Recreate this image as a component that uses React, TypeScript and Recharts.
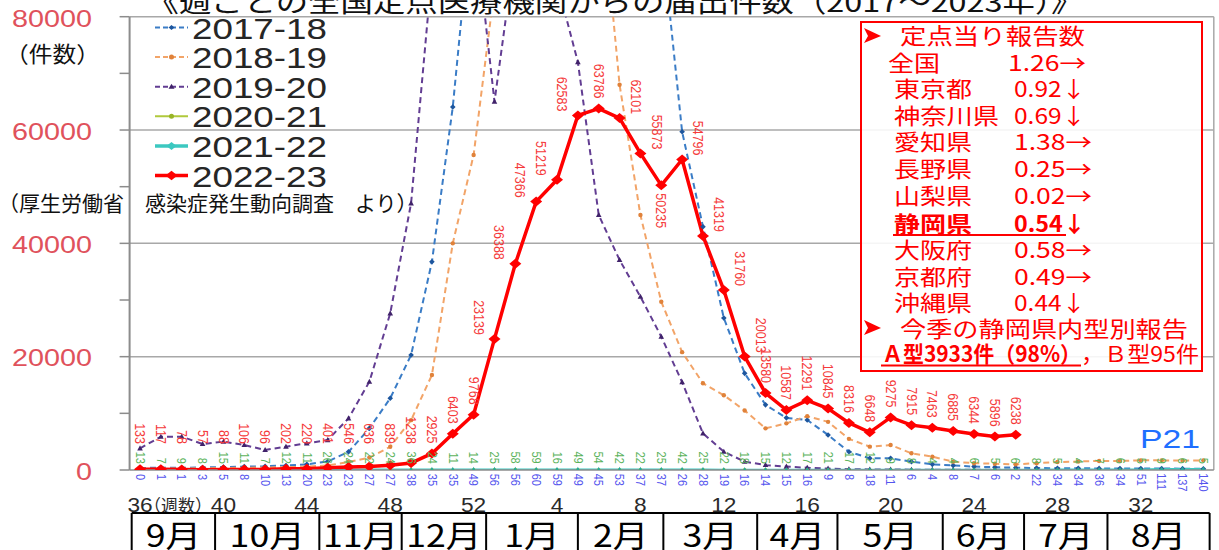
import React from "react";
import { LineChart, Line, XAxis, YAxis, ReferenceLine, LabelList } from "recharts";

// ---------- data ----------
const weeks = [36, 37, 38, 39, 40, 41, 42, 43, 44, 45, 46, 47, 48, 49, 50, 51, 52, 1, 2, 3, 4, 5, 6, 7, 8, 9, 10, 11, 12, 13, 14, 15, 16, 17, 18, 19, 20, 21, 22, 23, 24, 25, 26, 27, 28, 29, 30, 31, 32, 33, 34, 35];

const s1718 = [350, 420, 380, 450, 520, 600, 650, 800, 1000, 1500, 3200, 7350, 12650, 20300, 36760, 64060, 102000,
  140000, 200000, 270000, 283000, 260000, 200000, 150000, 120000, 95000, 59700, 42940, 26830, 17060, 11500, 9200, 8820,
  6180, 3230, 2060, 2060, 1470, 1000, 800, 600, 500, 400, 350, 300, 300, 280, 260, 250, 250, 240, 230];

const s1819 = [200, 250, 260, 300, 350, 400, 450, 500, 600, 800, 1400, 2200, 4100, 8800, 16770, 40000, 55600,
  85000, 150000, 230000, 280000, 220000, 107000, 68000, 45000, 29700, 20800, 15300, 13200, 10500, 7350, 8230, 9500,
  8500, 5500, 4120, 4410, 2950, 2350, 1470, 1200, 1100, 1000, 1200, 1400, 1500, 1600, 1600, 1700, 1700, 1650, 1700];

const s1920 = [3820, 5880, 5880, 4590, 5000, 4410, 3530, 4120, 4710, 5290, 9120, 15580, 27650, 47060, 88000, 105000, 98000,
  65000, 92000, 100000, 86000, 72000, 45000, 37060, 30590, 23530, 15500, 6470, 3230, 1470, 880, 600, 400,
  250, 150, 100, 80, 60, 50, 40, 30, 30, 20, 20, 15, 10, 10, 10, 8, 8, 6, 5];

const s2021 = [13, 7, 9, 8, 15, 11, 7, 12, 11, 26, 24, 22, 24, 36, 24, 11, 14,
  25, 58, 59, 16, 49, 54, 42, 22, 25, 42, 25, 22, 18, 15, 12, 17,
  21, 17, 12, 9, 8, 4, 4, 6, 5, 6, 8, 5, 4, 7, 6, 5, 9, 6, 5];

const s2122 = [0, 1, 1, 3, 5, 8, 10, 13, 20, 23, 23, 27, 27, 38, 35, 35, 49,
  56, 56, 60, 59, 49, 45, 53, 37, 37, 26, 28, 19, 16, 14, 15, 16,
  9, 8, 18, 11, 6, 4, 8, 7, 6, 2, 22, 34, 34, 36, 34, 51, 111, 137, 140];

const s2223 = [133, 117, 78, 57, 88, 106, 96, 202, 220, 401, 546, 636, 839, 1238, 2925, 6403, 9768,
  23139, 36388, 47366, 51219, 62583, 63786, 62101, 55873, 50235, 54796, 41319, 31760, 20013, 13580, 10587, 12291,
  10845, 8316, 6648, 9275, 7915, 7463, 6885, 6344, 5896, 6238];

const seriesNames = ["2017-18", "2018-19", "2019-20", "2020-21", "2021-22", "2022-23"];
const yTicks = [0, 10000, 20000, 30000, 40000, 50000, 60000, 70000, 80000];
const yLabelStep = 20000;
const gridValues = [20000, 40000, 60000, 80000];
const weekTicks = [36, 40, 44, 48, 52, 4, 8, 12, 16, 20, 24, 28, 32];
const months = ["9月", "10月", "11月", "12月", "1月", "2月", "3月", "4月", "5月", "6月", "7月", "8月"];
const monthBounds = [-0.4, 3.6, 8.6, 12.55, 16.6, 21.0, 25.1, 29.6, 33.45, 38.5, 42.4, 46.4, 51.3];

const reportTitle = "定点当り報告数";
const reportRows = [
  { name: "全国", value: "1.26→" },
  { name: "東京都", value: "0.92↓" },
  { name: "神奈川県", value: "0.69↓" },
  { name: "愛知県", value: "1.38→" },
  { name: "長野県", value: "0.25→" },
  { name: "山梨県", value: "0.02→" },
  { name: "静岡県", value: "0.54↓", bold: true },
  { name: "大阪府", value: "0.58→" },
  { name: "京都府", value: "0.49→" },
  { name: "沖縄県", value: "0.44↓" },
];
const typeTitle = "今季の静岡県内型別報告";
const typeA = "Ａ型3933件（98%）";
const typeB = "，Ｂ型95件";

const rows = weeks.map((w, i) => ({
  idx: i,
  week: w,
  s1718: s1718[i],
  s1819: s1819[i],
  s1920: s1920[i],
  s2021: s2021[i],
  s2122: s2122[i],
  s2223: i < s2223.length ? s2223[i] : null,
}));

// ---------- layout ----------
const W = 1219;
const H = 550;
const PLOT_LEFT = 129.6;
const PLOT_RIGHT = 1213.8;
const PLOT_TOP = 16.7;
const PLOT_BOTTOM = 470;
const X_AXIS_H = 30;
const N = weeks.length;
const BAND = (PLOT_RIGHT - PLOT_LEFT) / N;
const xOfIdx = (b: number) => PLOT_LEFT + (b + 0.5) * BAND;

const C = {
  blue: "#3a7cc6",
  blueDot: "#1d569e",
  orange: "#f2a468",
  orangeDot: "#e0823a",
  purple: "#623d92",
  purpleDot: "#40226a",
  green: "#b0c93c",
  greenDot: "#98b426",
  teal: "#3cc8c0",
  tealDot: "#26a89f",
  red: "#ff0000",
  redLabel: "#f53a3a",
  greenLabel: "#5cb35c",
  blueLabel: "#5555ee",
  grid: "#a8a8a8",
  axis: "#8c8c8c",
  yLabel: "#e0525c",
};

const NUM_FONT = "'Liberation Sans', Arial, sans-serif";
const JP_FONT = "'Noto Sans CJK JP', 'Noto Sans', sans-serif";

// ---------- dots ----------
const emptyDot = (i: any) => <g key={`e${i}`} />;
const bad = (p: any) => p.cx == null || p.cy == null || isNaN(p.cx) || isNaN(p.cy);

const diamondDot = (fill: string, hw: number, hh: number) => (p: any) => {
  if (bad(p)) return emptyDot(p.index);
  const { cx, cy } = p;
  return (
    <polygon key={`d${p.index}`} points={`${cx - hw},${cy} ${cx},${cy - hh} ${cx + hw},${cy} ${cx},${cy + hh}`} fill={fill} />
  );
};
const circleDot = (fill: string, r: number) => (p: any) => {
  if (bad(p)) return emptyDot(p.index);
  return <circle key={`c${p.index}`} cx={p.cx} cy={p.cy} r={r} fill={fill} />;
};
const triDot = (fill: string, w: number, h: number) => (p: any) => {
  if (bad(p)) return emptyDot(p.index);
  const { cx, cy } = p;
  return (
    <polygon key={`t${p.index}`} points={`${cx},${cy - h} ${cx + w},${cy + h * 0.7} ${cx - w},${cy + h * 0.7}`} fill={fill} />
  );
};

// ---------- labels ----------
const redLabel = (p: any) => {
  const v = p.value;
  const x = p.x ?? p.viewBox?.x;
  const y = p.y ?? p.viewBox?.y;
  const i = p.index;
  if (v == null || x == null || y == null) return null;
  const prev = i > 0 ? s2223[i - 1] : v;
  const next = i < s2223.length - 1 ? s2223[i + 1] : v;
  const slope = next - prev;
  const deepMin = prev - v > 3000 && next - v > 3000;
  const common = {
    fontSize: 12.5,
    fill: C.redLabel,
    fontFamily: NUM_FONT,
    dominantBaseline: "central" as any,
  };
  if (deepMin) {
    return (
      <text key={`rl${i}`} transform={`translate(${x},${y + 8}) rotate(90) scale(1,1.2)`} textAnchor="start" {...common}>
        {v}
      </text>
    );
  }
  let dx = 0;
  let endY = Math.min(y - 10, 444);
  if (v > 15000 && slope > 7000) {
    dx = -16;
    endY = y - 4;
  } else if (v > 15000 && slope < -7000) {
    dx = 16;
    endY = y - 4;
  }
  return (
    <text key={`rl${i}`} transform={`translate(${x + dx},${endY}) rotate(90) scale(1,1.2)`} textAnchor="end" {...common}>
      {v}
    </text>
  );
};

const smallLabel = (color: string, above: boolean) => (p: any) => {
  const v = p.value;
  const x = p.x ?? p.viewBox?.x;
  const y = p.y ?? p.viewBox?.y;
  if (v == null || x == null || y == null) return null;
  return (
    <text
      key={`sl${color}${p.index}`}
      transform={`translate(${x},${above ? y - 6 : y + 4}) rotate(90) scale(1,1.15)`}
      textAnchor={above ? "end" : "start"}
      dominantBaseline="central"
      fontSize={11}
      fill={color}
      fontFamily={NUM_FONT}
    >
      {v}
    </text>
  );
};

// ---------- ticks ----------
const YTick = (p: any) => {
  const v = p.payload?.value;
  if (v == null || v % yLabelStep !== 0) return <g />;
  const s = String(v);
  return (
    <text
      x={92}
      y={p.y + 9.8}
      textAnchor="end"
      fontSize={24}
      fontFamily={NUM_FONT}
      fill={C.yLabel}
      textLength={s.length * 16}
      lengthAdjust="spacingAndGlyphs"
    >
      {s}
    </text>
  );
};

const XTick = (p: any) => {
  const i = p.payload?.value;
  if (i == null) return <g />;
  const x = p.x;
  return (
    <g>
      <text
        transform={`translate(${x},512) scale(1.08,1)`}
        textAnchor="middle"
        fontSize={21}
        fontFamily={NUM_FONT}
        fill="#2a2a2a"
      >
        {weeks[i]}
      </text>
      {i === 0 && (
        <text x={x + 4} y={512} fontSize={17} fontFamily={JP_FONT} fill="#2a2a2a">
          （週数）
        </text>
      )}
    </g>
  );
};

// ---------- legend ----------
const legendItems = [
  { name: seriesNames[0], color: C.blue, dotColor: C.blueDot, dash: "5 3", width: 2, marker: "diamond", ms: 3 },
  { name: seriesNames[1], color: C.orange, dotColor: C.orangeDot, dash: "5 3", width: 2, marker: "circle", ms: 2.5 },
  { name: seriesNames[2], color: C.purple, dotColor: C.purpleDot, dash: "5 3", width: 2, marker: "tri", ms: 3 },
  { name: seriesNames[3], color: C.green, dotColor: C.greenDot, dash: undefined, width: 2, marker: "circle", ms: 2.5 },
  { name: seriesNames[4], color: C.teal, dotColor: C.teal, dash: undefined, width: 3.5, marker: "diamond", ms: 5 },
  { name: seriesNames[5], color: C.red, dotColor: C.red, dash: undefined, width: 3.5, marker: "diamond", ms: 6 },
];

const LegendBlock = () => (
  <g>
    {legendItems.map((it, i) => {
      const cy = 27.5 + i * 29.6;
      const mx = 171.5;
      let marker: any = null;
      if (it.marker === "diamond")
        marker = (
          <polygon
            points={`${mx - it.ms},${cy} ${mx},${cy - it.ms * 0.8} ${mx + it.ms},${cy} ${mx},${cy + it.ms * 0.8}`}
            fill={it.dotColor}
          />
        );
      else if (it.marker === "tri")
        marker = (
          <polygon points={`${mx},${cy - 3} ${mx + 3},${cy + 2} ${mx - 3},${cy + 2}`} fill={it.dotColor} />
        );
      else marker = <circle cx={mx} cy={cy} r={it.ms} fill={it.dotColor} />;
      return (
        <g key={it.name}>
          <line x1={155} x2={188} y1={cy} y2={cy} stroke={it.color} strokeWidth={it.width} strokeDasharray={it.dash} />
          {marker}
          <text
            x={192}
            y={cy + 11}
            fontSize={30}
            fontFamily={NUM_FONT}
            fill="#262626"
            textLength={135}
            lengthAdjust="spacingAndGlyphs"
          >
            {it.name}
          </text>
        </g>
      );
    })}
  </g>
);

// ---------- report box ----------
const Arrowhead = ({ x, y }: { x: number; y: number }) => (
  <polygon points={`${x},${y - 8} ${x + 17},${y} ${x},${y + 7} ${x + 4},${y}`} fill="#ff0000" />
);

const ReportBox = () => {
  const rowY0 = 70.5;
  const rowStep = 26.6;
  const nameW: Record<string, number> = { 全国: 52, 神奈川県: 105 };
  return (
    <g fontFamily={JP_FONT} fill="#ff0000">
      <rect x={861} y={22} width={341} height={349} fill="#ffffff" fillOpacity={0.88} stroke="#ff0000" strokeWidth={2} />
      <Arrowhead x={864} y={36} />
      <text x={900} y={44} fontSize={22} textLength={185} lengthAdjust="spacingAndGlyphs">
        {reportTitle}
      </text>
      {reportRows.map((r, i) => {
        const y = rowY0 + i * rowStep + (i >= 6 ? 1.5 : 0);
        const isFirst = i === 0;
        const nx = isFirst ? 888 : 894;
        const vx = isFirst ? 1008 : 1014;
        const nw = nameW[r.name] ?? 78;
        return (
          <g key={r.name} fontWeight={r.bold ? 700 : 400}>
            <text x={nx} y={y} fontSize={22} textLength={nw} lengthAdjust="spacingAndGlyphs">
              {r.name}
            </text>
            <text x={vx} y={y} fontSize={22} textLength={r.value.endsWith("→") ? 78 : 72} lengthAdjust="spacingAndGlyphs">
              {r.value}
            </text>
            {r.bold && <line x1={893} x2={1066} y1={y + 3.5} y2={y + 3.5} stroke="#ff0000" strokeWidth={2} />}
          </g>
        );
      })}
      <Arrowhead x={864} y={328} />
      <text x={900} y={337} fontSize={22} textLength={288} lengthAdjust="spacingAndGlyphs">
        {typeTitle}
      </text>
      <text x={882} y={362} fontSize={22} fontWeight={700} textLength={199} lengthAdjust="spacingAndGlyphs">
        {typeA}
      </text>
      <line x1={881} x2={1081} y1={365.5} y2={365.5} stroke="#ff0000" strokeWidth={2} />
      <text x={1081} y={362} fontSize={22} textLength={118} lengthAdjust="spacingAndGlyphs">
        {typeB}
      </text>
    </g>
  );
};

// ---------- month table ----------
const MonthTable = () => {
  const top = 513;
  const xs = monthBounds.map(xOfIdx);
  return (
    <g>
      <line x1={xs[0]} x2={xs[xs.length - 1]} y1={top} y2={top} stroke="#000" strokeWidth={2} />
      {xs.map((x, i) => (
        <line key={`mb${i}`} x1={x} x2={x} y1={top} y2={H} stroke="#000" strokeWidth={2} />
      ))}
      {months.map((m, i) => {
        const cx = (xs[i] + xs[i + 1]) / 2;
        return (
          <text
            key={m}
            transform={`translate(${cx},547) scale(1.15,1)`}
            textAnchor="middle"
            fontSize={31}
            fontFamily={JP_FONT}
            fill="#000"
          >
            {m}
          </text>
        );
      })}
    </g>
  );
};

export default function App() {
  return (
    <div
      style={{
        position: "absolute",
        left: 0,
        top: 0,
        width: W,
        height: H,
        overflow: "hidden",
        background: "#ffffff",
      }}
    >
      <LineChart
        width={W}
        height={H}
        data={rows}
        margin={{ top: PLOT_TOP, right: W - PLOT_RIGHT, bottom: H - PLOT_BOTTOM - X_AXIS_H, left: 0 }}
      >
        <XAxis
          dataKey="idx"
          type="number"
          domain={[-0.5, N - 0.5]}
          ticks={weekTicks.map((w) => weeks.indexOf(w))}
          interval={0}
          tick={XTick}
          tickLine={false}
          axisLine={{ stroke: C.axis, strokeWidth: 1.5 }}
          height={X_AXIS_H}
          allowDataOverflow
        />
        <YAxis
          type="number"
          domain={[0, 80000]}
          ticks={yTicks}
          interval={0}
          allowDataOverflow
          width={PLOT_LEFT}
          tickSize={10}
          tickLine={{ stroke: C.axis, strokeWidth: 1.5 }}
          axisLine={{ stroke: C.axis, strokeWidth: 2 }}
          tick={YTick}
        />
        {gridValues.map((g) => (
          <ReferenceLine key={`g${g}`} y={g} stroke={C.grid} strokeWidth={1.5} ifOverflow="extendDomain" />
        ))}
        <ReferenceLine x={N - 0.5} stroke={C.grid} strokeWidth={1.5} />

        <Line
          dataKey="s1718"
          name={seriesNames[0]}
          stroke={C.blue}
          strokeWidth={2}
          strokeDasharray="6 4"
          dot={diamondDot(C.blueDot, 2.8, 2.8)}
          activeDot={false}
          isAnimationActive={false}
        />
        <Line
          dataKey="s1819"
          name={seriesNames[1]}
          stroke={C.orange}
          strokeWidth={2}
          strokeDasharray="6 4"
          dot={circleDot(C.orangeDot, 2.2)}
          activeDot={false}
          isAnimationActive={false}
        />
        <Line
          dataKey="s1920"
          name={seriesNames[2]}
          stroke={C.purple}
          strokeWidth={2}
          strokeDasharray="6 4"
          dot={triDot(C.purpleDot, 2.8, 3)}
          activeDot={false}
          isAnimationActive={false}
        />
        <Line
          dataKey="s2021"
          name={seriesNames[3]}
          stroke={C.green}
          strokeWidth={1.5}
          dot={circleDot(C.greenDot, 1.8)}
          activeDot={false}
          isAnimationActive={false}
        >
          <LabelList dataKey="s2021" content={smallLabel(C.greenLabel, true)} />
        </Line>
        <Line
          dataKey="s2122"
          name={seriesNames[4]}
          stroke={C.teal}
          strokeWidth={2.5}
          dot={triDot(C.tealDot, 2.5, 3)}
          activeDot={false}
          isAnimationActive={false}
        >
          <LabelList dataKey="s2122" content={smallLabel(C.blueLabel, false)} />
        </Line>
        <Line
          dataKey="s2223"
          name={seriesNames[5]}
          stroke={C.red}
          strokeWidth={3.5}
          dot={diamondDot(C.red, 6, 5)}
          activeDot={false}
          isAnimationActive={false}
        >
          <LabelList dataKey="s2223" content={redLabel} />
        </Line>
      </LineChart>

      <svg
        width={W}
        height={H}
        style={{ position: "absolute", left: 0, top: 0, pointerEvents: "none" }}
      >
        <text
          transform={`translate(615,12) scale(1.2,1)`}
          textAnchor="middle"
          fontSize={27}
          fontFamily={JP_FONT}
          fill="#111"
        >
          《週ごとの全国定点医療機関からの届出件数（2017～2023年）》
        </text>
        <text x={5} y={62} fontSize={22} fontFamily={JP_FONT} fill="#111" textLength={95} lengthAdjust="spacingAndGlyphs">
          （件数）
        </text>
        <text x={-2} y={211} fontSize={21} fontFamily={JP_FONT} fill="#111">
          （厚生労働省　感染症発生動向調査　より）
        </text>
        <LegendBlock />
        <ReportBox />
        <text
          x={1140}
          y={448}
          fontSize={25}
          fontFamily={NUM_FONT}
          fill="#1f6fff"
          textLength={60}
          lengthAdjust="spacingAndGlyphs"
        >
          P21
        </text>
        <MonthTable />
      </svg>
    </div>
  );
}
